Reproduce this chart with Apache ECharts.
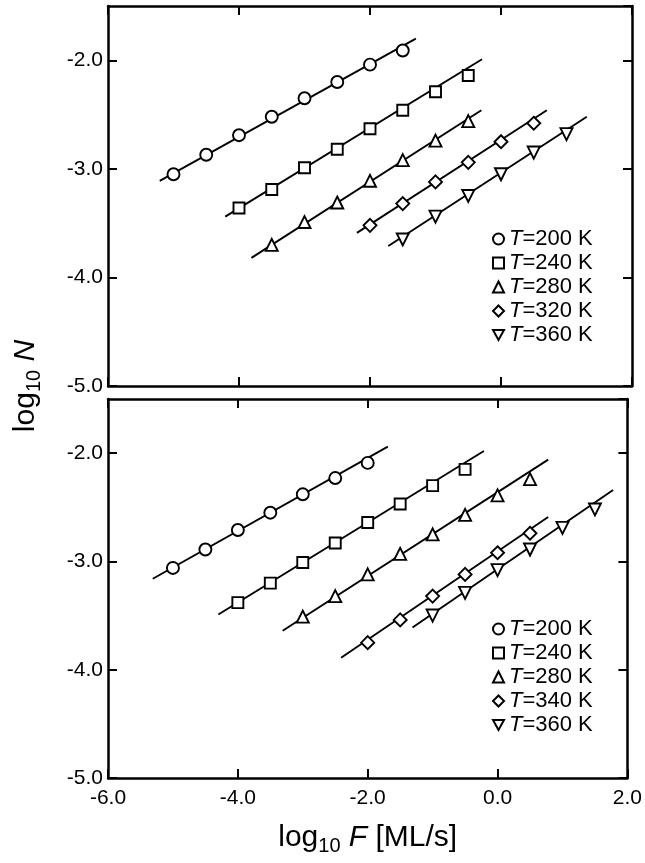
<!DOCTYPE html>
<html>
<head>
<meta charset="utf-8">
<script src="https://cdn.jsdelivr.net/npm/echarts@6/dist/echarts.min.js"></script>
<style>
html, body { margin: 0; padding: 0; background: #fff; }
#main { width: 645px; height: 863px; }
</style>
</head>
<body>
<div id="main"></div>
<script>
var FONT = '"Liberation Sans", Arial, Helvetica, sans-serif';

// top panel (a)
var a200x = [-5.0, -4.5, -4.0, -3.5, -3.0, -2.5, -2.0, -1.5];
var a200y = [-3.05, -2.87, -2.69, -2.52, -2.35, -2.20, -2.04, -1.91];
var a240x = [-4.0, -3.5, -3.0, -2.5, -2.0, -1.5, -1.0, -0.5];
var a240y = [-3.36, -3.19, -2.99, -2.82, -2.63, -2.46, -2.29, -2.14];
var a280x = [-3.5, -3.0, -2.5, -2.0, -1.5, -1.0, -0.5];
var a280y = [-3.70, -3.49, -3.31, -3.11, -2.92, -2.74, -2.56];
var a320x = [-2.0, -1.5, -1.0, -0.5, 0.0, 0.5];
var a320y = [-3.52, -3.32, -3.12, -2.94, -2.75, -2.58];
var a360x = [-1.5, -1.0, -0.5, 0.0, 0.5, 1.0];
var a360y = [-3.65, -3.44, -3.25, -3.05, -2.85, -2.68];
// fitted lines (start, end)
var a200fit = [[-5.21, -3.11], [-1.30, -1.80]];
var a240fit = [[-4.21, -3.44], [-0.29, -1.99]];
var a280fit = [[-3.81, -3.82], [-0.30, -2.46]];
var a320fit = [[-2.20, -3.59], [0.70, -2.46]];
var a360fit = [[-1.72, -3.71], [1.31, -2.52]];

// bottom panel (b)
var b200x = [-5.0, -4.5, -4.0, -3.5, -3.0, -2.5, -2.0];
var b200y = [-3.06, -2.89, -2.71, -2.55, -2.38, -2.23, -2.09];
var b240x = [-4.0, -3.5, -3.0, -2.5, -2.0, -1.5, -1.0, -0.5];
var b240y = [-3.38, -3.20, -3.01, -2.83, -2.64, -2.47, -2.30, -2.15];
var b280x = [-3.0, -2.5, -2.0, -1.5, -1.0, -0.5, 0.0, 0.5];
var b280y = [-3.51, -3.32, -3.12, -2.93, -2.75, -2.57, -2.39, -2.24];
var b340x = [-2.0, -1.5, -1.0, -0.5, 0.0, 0.5];
var b340y = [-3.75, -3.54, -3.32, -3.12, -2.92, -2.74];
var b360x = [-1.0, -0.5, 0.0, 0.5, 1.0, 1.5];
var b360y = [-3.50, -3.29, -3.08, -2.89, -2.69, -2.52];
var b200fit = [[-5.31, -3.16], [-1.69, -1.94]];
var b240fit = [[-4.30, -3.49], [-0.21, -1.98]];
var b280fit = [[-3.31, -3.64], [0.78, -2.06]];
var b340fit = [[-2.41, -3.89], [0.78, -2.59]];
var b360fit = [[-1.31, -3.61], [1.78, -2.34]];

var namesA = ['T=200 K', 'T=240 K', 'T=280 K', 'T=320 K', 'T=360 K'];
var namesB = ['T=200 K', 'T=240 K', 'T=280 K', 'T=340 K', 'T=360 K'];

function pairs(xs, ys) {
    var out = [];
    for (var i = 0; i < xs.length; i++) out.push([xs[i], ys[i]]);
    return out;
}

var INV_TRI = 'path://M0,0 L10,0 L5,9 Z';
var marks = [
    { symbol: 'circle', size: 12, icon: 'circle' },
    { symbol: 'rect', size: 11, icon: 'rect' },
    { symbol: 'triangle', size: 12, icon: 'triangle' },
    { symbol: 'diamond', size: 13, icon: 'diamond' },
    { symbol: INV_TRI, size: 12, icon: INV_TRI }
];

function scatter(name, idx, xs, ys, m) {
    return {
        name: name,
        type: 'scatter',
        xAxisIndex: idx,
        yAxisIndex: idx,
        symbol: m.symbol,
        symbolSize: m.size,
        itemStyle: { color: '#fff', borderColor: '#000', borderWidth: 1.9, opacity: 1 },
        z: 5,
        data: pairs(xs, ys)
    };
}

function fitline(idx, pts) {
    return {
        type: 'line',
        xAxisIndex: idx,
        yAxisIndex: idx,
        symbol: 'none',
        silent: true,
        lineStyle: { color: '#000', width: 1.9 },
        z: 2,
        data: pts
    };
}

function xAxis(grid, pos, labels) {
    return {
        type: 'value', gridIndex: grid, position: pos,
        min: -6, max: 2, interval: 2,
        axisLine: { show: true, onZero: false, lineStyle: { color: '#000', width: 2.5 } },
        axisTick: { show: true, inside: true, length: 9, lineStyle: { color: '#000', width: 2 } },
        axisLabel: {
            show: labels, color: '#000', fontSize: 21, fontFamily: FONT, margin: 10,
            formatter: function (v) { return v.toFixed(1); }
        },
        splitLine: { show: false }
    };
}

function yAxis(grid, pos, labels) {
    return {
        type: 'value', gridIndex: grid, position: pos,
        min: -5, max: -1.5, interval: 1,
        axisLine: { show: true, onZero: false, lineStyle: { color: '#000', width: 2.5 } },
        axisTick: { show: true, inside: true, length: 9, lineStyle: { color: '#000', width: 2 } },
        axisLabel: {
            show: labels, color: '#000', fontSize: 21, fontFamily: FONT, margin: 5,
            showMaxLabel: false,
            formatter: function (v) { return v.toFixed(1); }
        },
        splitLine: { show: false }
    };
}

var xa = [xAxis(0, 'bottom', false), xAxis(0, 'top', false), xAxis(1, 'bottom', true), xAxis(1, 'top', false)];
xa[2].name = '{a|log}{s|10} {f|F}{a| [ML/s]}';
xa[2].nameLocation = 'middle';
xa[2].nameGap = 42;
xa[2].nameTextStyle = {
    color: '#000', fontFamily: FONT, fontSize: 30,
    rich: {
        a: { fontSize: 30, fontFamily: FONT, color: '#000' },
        s: { fontSize: 20, fontFamily: FONT, color: '#000', padding: [16, 0, 0, 0] },
        f: { fontSize: 30, fontFamily: FONT, color: '#000', fontStyle: 'italic' }
    }
};

var legendRich = {
    i: { fontStyle: 'italic', fontSize: 22, fontFamily: FONT, color: '#000' },
    n: { fontSize: 22, fontFamily: FONT, color: '#000' }
};
function legend(names, top) {
    var items = [];
    for (var i = 0; i < names.length; i++) items.push({ name: names[i], icon: marks[i].icon });
    return {
        data: items,
        orient: 'vertical',
        left: 492,
        top: top,
        padding: 0,
        itemWidth: 11,
        itemHeight: 11,
        itemGap: 2,
        selectedMode: false,
        textStyle: { fontSize: 22, fontFamily: FONT, color: '#000', lineHeight: 22, rich: legendRich },
        formatter: function (name) {
            return '{i|T}{n|' + name.slice(1) + '}';
        }
    };
}

var series = [];
var aX = [a200x, a240x, a280x, a320x, a360x];
var aY = [a200y, a240y, a280y, a320y, a360y];
var aFit = [a200fit, a240fit, a280fit, a320fit, a360fit];
var bX = [b200x, b240x, b280x, b340x, b360x];
var bY = [b200y, b240y, b280y, b340y, b360y];
var bFit = [b200fit, b240fit, b280fit, b340fit, b360fit];
for (var k = 0; k < 5; k++) {
    series.push(fitline(0, aFit[k]));
    series.push(scatter(namesA[k], 0, aX[k], aY[k], marks[k]));
    series.push(fitline(2, bFit[k]));
    series.push(scatter(namesB[k], 2, bX[k], bY[k], marks[k]));
}

var chart = echarts.init(document.getElementById('main'));
var option = {
    animation: false,
    backgroundColor: '#fff',
    grid: [
        { left: 108, right: 13, top: 6, height: 380 },
        { left: 108, right: 13, top: 399, height: 379 }
    ],
    xAxis: xa,
    yAxis: [yAxis(0, 'left', true), yAxis(0, 'right', false), yAxis(1, 'left', true), yAxis(1, 'right', false)],
    legend: [legend(namesA, 228), legend(namesB, 618)],
    graphic: [{
        type: 'text',
        x: 26,
        y: 386,
        rotation: Math.PI / 2,
        style: {
            text: '{a|log}{s|10} {n|N}',
            align: 'center',
            verticalAlign: 'middle',
            fill: '#000',
            font: '30px ' + FONT,
            rich: {
                a: { fontSize: 30, fontFamily: FONT, fill: '#000' },
                s: { fontSize: 20, fontFamily: FONT, fill: '#000', padding: [16, 0, 0, 0] },
                n: { fontSize: 30, fontFamily: FONT, fill: '#000', fontStyle: 'italic' }
            }
        }
    }],
    series: series
};
chart.setOption(option);
</script>
</body>
</html>
